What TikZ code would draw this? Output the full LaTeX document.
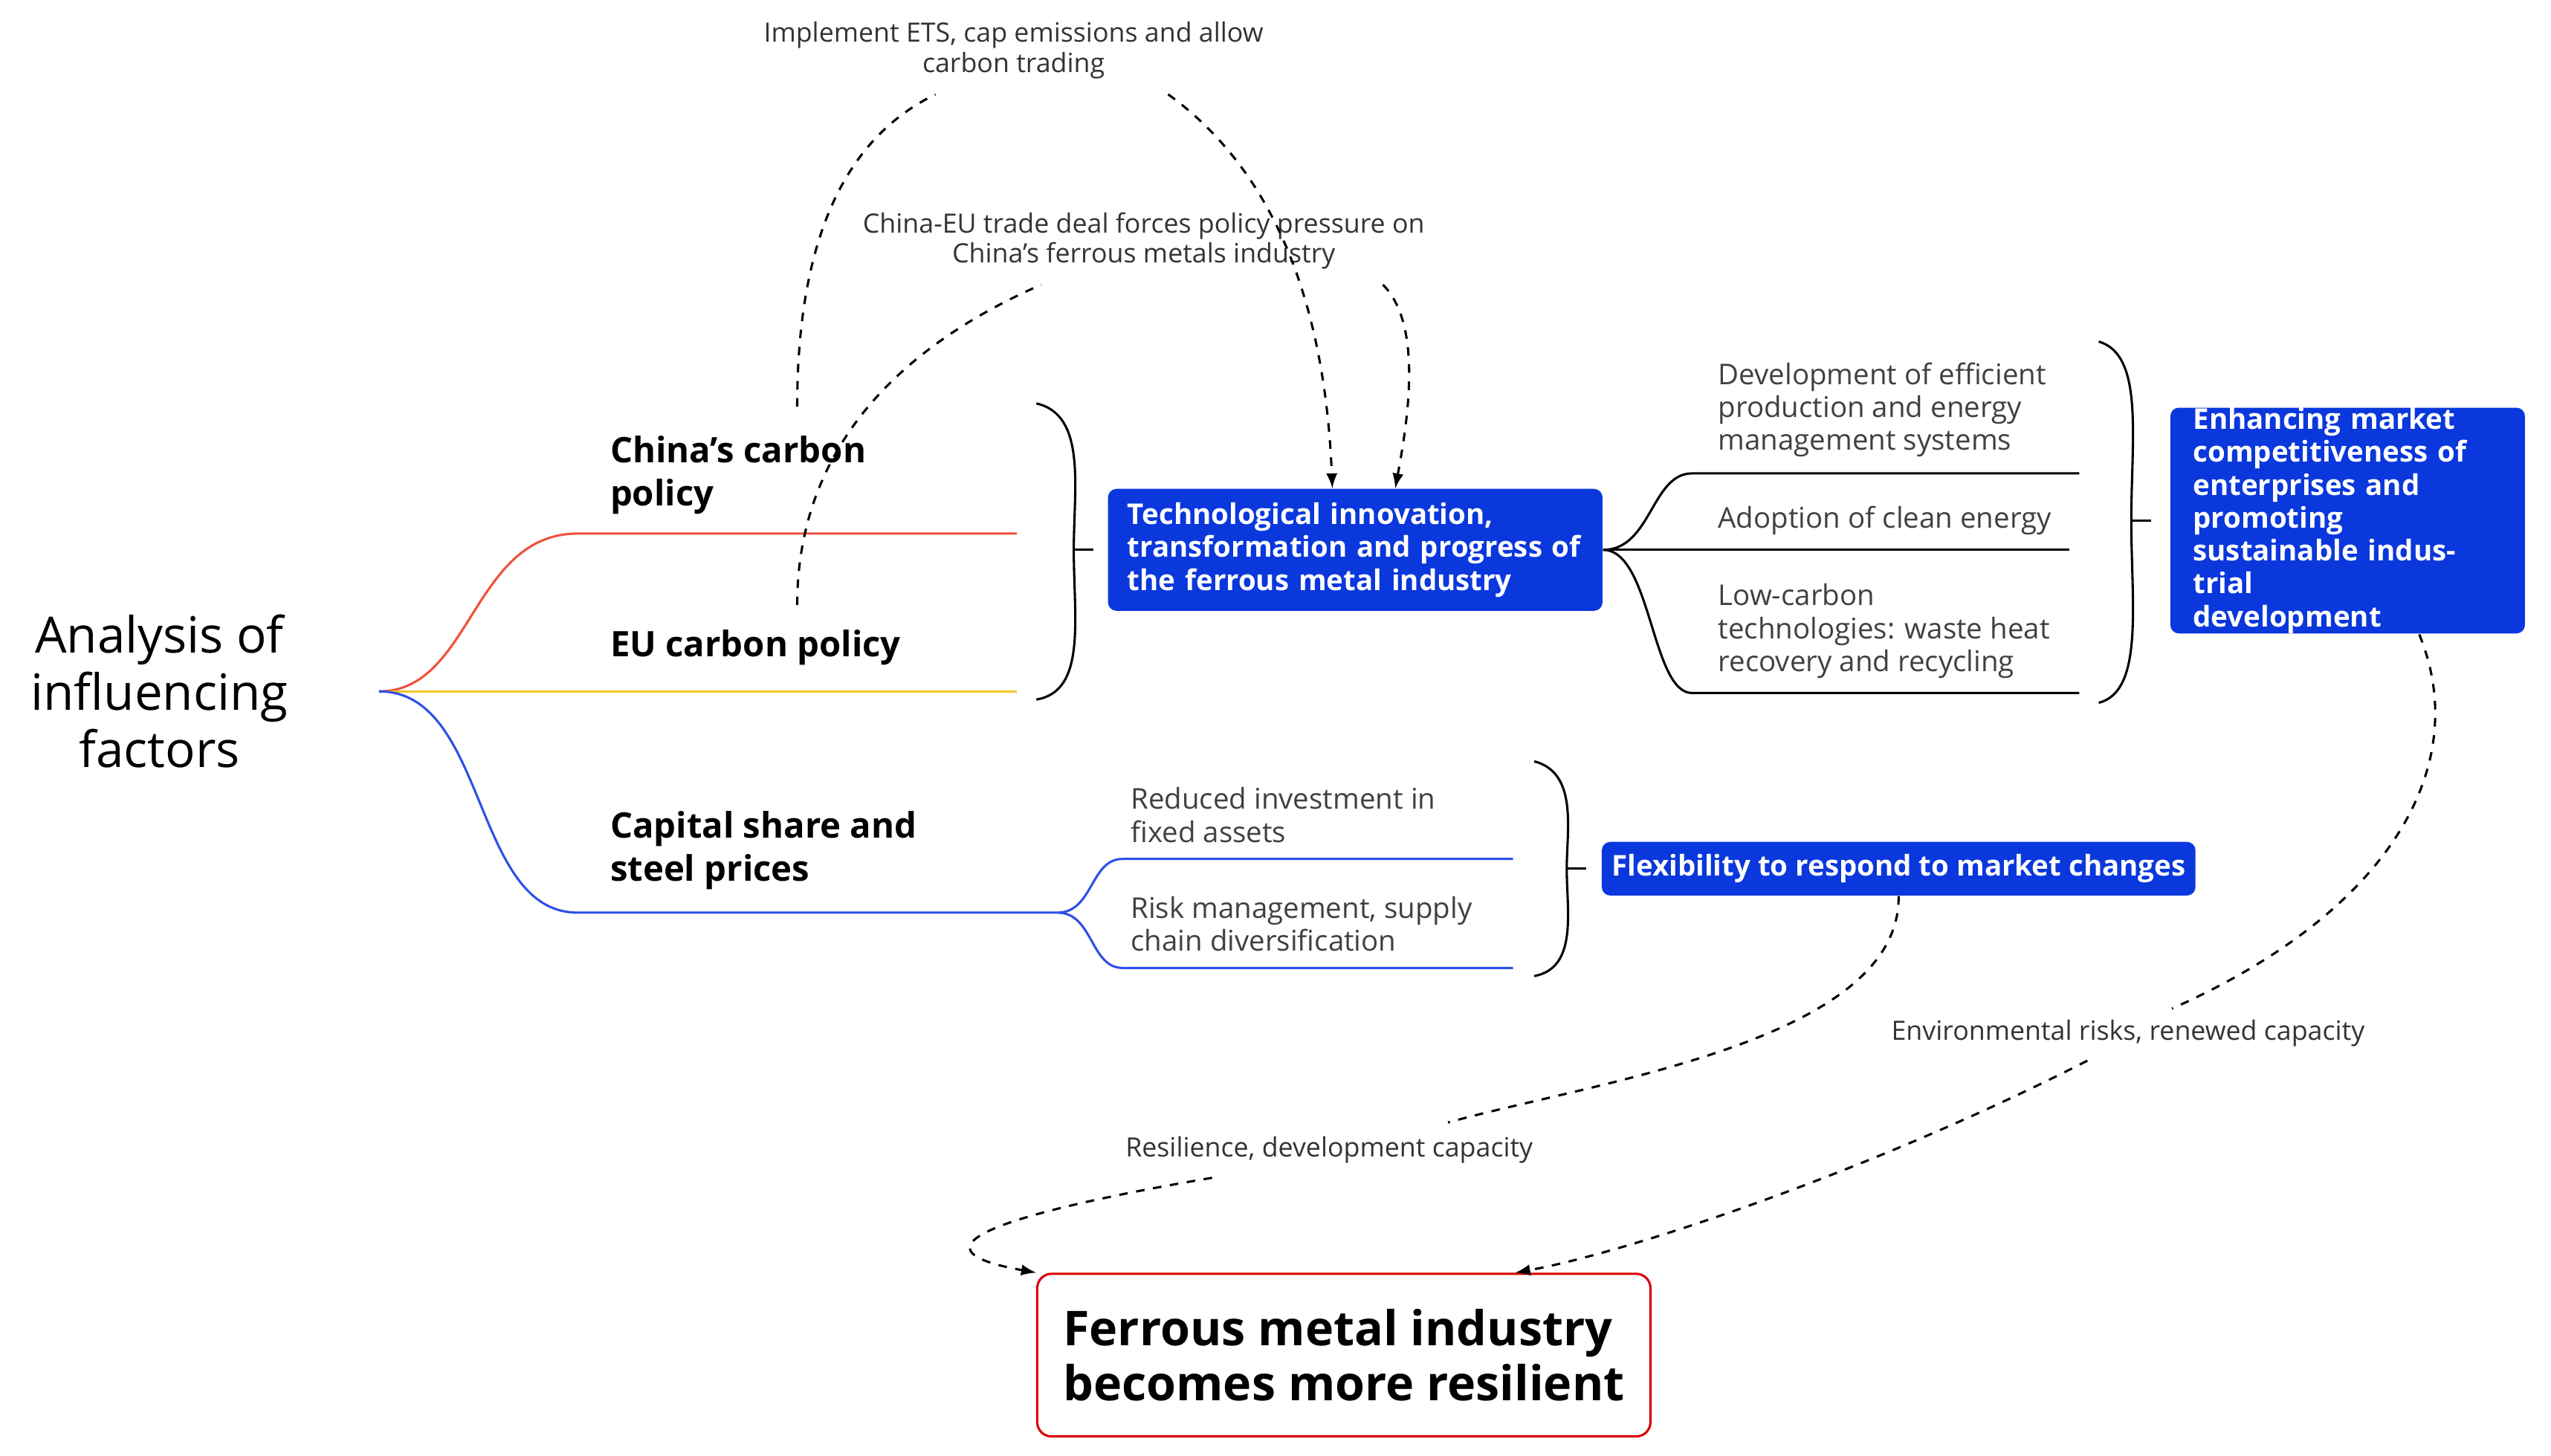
\documentclass[tikz,border=0pt]{standalone}
\usepackage{fontspec}
\setmainfont{Open Sans}
\usetikzlibrary{positioning}
\definecolor{boxblue}{RGB}{10,56,220}
\definecolor{brred}{RGB}{240,80,60}
\definecolor{bryellow}{RGB}{245,195,40}
\definecolor{brblue}{RGB}{45,80,230}
\begin{document}
\begin{tikzpicture}[x=0.02cm,y=-0.02cm,
    bluebox/.style={fill=boxblue,rounded corners=3pt,text=white,font=\fontsize{10}{11.5}\selectfont\bfseries,align=left,inner sep=0pt},
    leaf/.style={font=\fontsize{10}{11.5}\selectfont\color{black!75},align=left,anchor=south west,inner sep=1pt},
    branch/.style={font=\fontsize{12.3}{15}\selectfont\bfseries,align=left,anchor=south west,inner sep=1pt},
    note/.style={font=\fontsize{9.3}{10.5}\selectfont\color{black!80},align=center,inner sep=1pt},
    link/.style={->,thick,dashed,>=latex},
    brace/.style={thick}]
    %frame
    \useasboundingbox (0,0) rectangle (1568,895);
    %root
    \node[font=\fontsize{17.5}{20}\selectfont,align=center] (root) at (98,425) {Analysis of\\influencing\\factors};
    \coordinate (r0) at (233,425);
    \draw[brred,thick] (r0) .. controls (290,425) and (290,328) .. (355,328) -- (625,328);
    \draw[bryellow,thick] (r0) -- (625,425);
    \draw[brblue,thick] (r0) .. controls (300,425) and (290,561) .. (355,561) -- (650,561);
    \draw[brblue,thick] (650,561) .. controls (672,561) and (670,528) .. (690,528) -- (930,528);
    \draw[brblue,thick] (650,561) .. controls (672,561) and (670,595) .. (690,595) -- (930,595);
    \node[branch] (china) at (373,318) {China's carbon\\policy};
    \node[branch] (eu) at (373,411) {EU carbon policy};
    \node[branch] (capital) at (373,549) {Capital share and\\steel prices};
    \node[leaf] (invest) at (693,520) {Reduced investment in\\fixed assets};
    \node[leaf] (risk) at (693,587) {Risk management, supply\\chain diversification};

    %braces
    \draw[brace] (637,248) .. controls (668,255) and (660,300) .. (660,338) .. controls (660,380) and (668,425) .. (637,430);
    \draw[brace] (660,338) -- (672,338);
    \draw[brace] (943,468) .. controls (970,475) and (963,510) .. (963,534) .. controls (963,560) and (970,595) .. (943,600);
    \draw[brace] (963,534) -- (975,534);
    \draw[brace] (1290,210) .. controls (1318,218) and (1310,270) .. (1310,320) .. controls (1310,370) and (1318,425) .. (1290,432);
    \draw[brace] (1310,320) -- (1322,320);

    %boxes
    \node[bluebox,minimum width=6.08cm,minimum height=1.5cm,text width=5.6cm] (tech) at (833,338) {Technological innovation,\\transformation and progress of\\the ferrous metal industry};
    \node[bluebox,minimum width=7.3cm,minimum height=0.66cm,align=center] (flex) at (1167,534) {Flexibility to respond to market changes};
    \node[bluebox,minimum width=4.36cm,text width=3.8cm,minimum height=2.7cm] (enh) at (1443,320) {Enhancing market\\competitiveness of\\enterprises and\\promoting\\sustainable industrial\\development};
    \node[draw=red!85!black,thick,rounded corners=5pt,font=\fontsize{16.8}{19.5}\selectfont\bfseries,align=left,minimum width=7.54cm,minimum height=2cm] (resil) at (826,833) {Ferrous metal industry\\becomes more resilient};

    %tech branches
    \coordinate (t0) at (tech.east);
    \draw[thick] (t0) .. controls (1015,338) and (1015,291) .. (1040,291) -- (1278,291);
    \draw[thick] (t0) -- (1272,338);
    \draw[thick] (t0) .. controls (1015,338) and (1015,426) .. (1040,426) -- (1278,426);
    \node[leaf] (dev) at (1054,283) {Development of efficient\\production and energy\\management systems};
    \node[leaf] (clean) at (1054,331) {Adoption of clean energy};
    \node[leaf] (low) at (1054,419) {Low-carbon\\technologies: waste heat\\recovery and recycling};

    %notes
    \node[note] (ets) at (623,31) {Implement ETS, cap emissions and allow\\carbon trading};
    \node[note] (deal) at (703,148) {China-EU trade deal forces policy pressure on\\China's ferrous metals industry};
    \node[note] (res) at (817,707) {Resilience, development capacity};
    \node[note] (env) at (1308,635) {Environmental risks, renewed capacity};

    %dashed links
    \coordinate (c1) at (490,250);
    \coordinate (c2) at (490,372);
    \draw[thick,dashed] (c1) .. controls (490,130) and (530,80) .. (575,58);
    \draw[link] (718,58) .. controls (790,110) and (815,200) .. ([xshift=-8pt]tech.north);
    \draw[thick,dashed] (c2) .. controls (490,270) and (560,210) .. (640,175);
    \draw[link] (850,175) .. controls (875,200) and (865,260) .. ([xshift=14pt]tech.north);
    \draw[thick,dashed] (flex.south) .. controls (1168,640) and (980,665) .. (890,690);
    \draw[link] (745,724) .. controls (650,740) and (540,765) .. (resil.north west);
    \draw[thick,dashed] (1487,390) .. controls (1520,470) and (1470,560) .. (1335,620);
    \draw[link] (1283,652) .. controls (1150,720) and (1000,770) .. ([xshift=60pt]resil.north);
\end{tikzpicture}
\end{document}
